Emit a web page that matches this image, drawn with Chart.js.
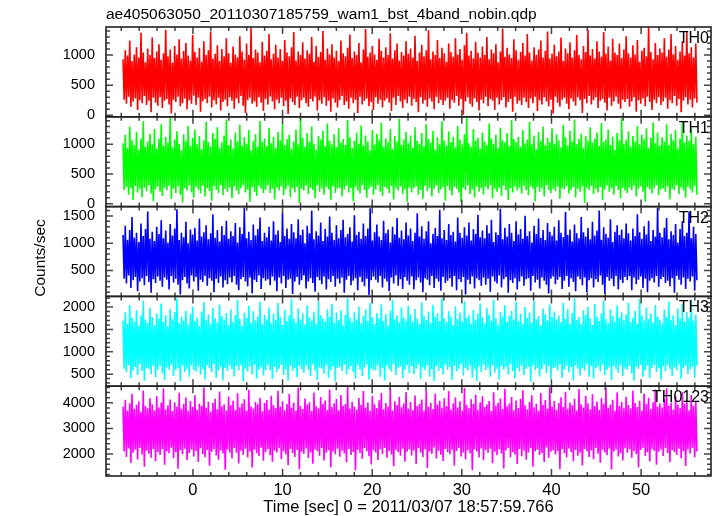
<!DOCTYPE html>
<html>
<head>
<meta charset="utf-8">
<script src="https://cdn.jsdelivr.net/npm/chart.js@4.4.1/dist/chart.umd.min.js"></script>
<style>
  html, body { margin: 0; padding: 0; background: #fff; }
  #wrap { width: 717px; height: 516px; }
</style>
</head>
<body>
<div id="wrap"><canvas id="lc" width="717" height="516"></canvas></div>
<script>
const TITLE = "ae405063050_20110307185759_wam1_bst_4band_nobin.qdp";
const X_TITLE = "Time [sec] 0 = 2011/03/07 18:57:59.766";
const Y_TITLE = "Counts/sec";

// sampling grid of the light curve (sec from t0)
const T_START = -7.8;
const T_STEP = 0.1253;
const X_TICKS = [0, 10, 20, 30, 40, 50];

const LABELS = ["TH0", "TH1", "TH2", "TH3", "TH0123"];
const COLORS = ["#ff0000", "#00ff00", "#0000ff", "#00ffff", "#ff00ff"];
const Y_TICKS = [
  [0, 500, 1000],
  [0, 500, 1000],
  [500, 1000, 1500],
  [500, 1000, 1500, 2000],
  [2000, 3000, 4000],
];

// upper / lower excursions
const TH0_HI = [
  930, 1080, 990, 1240, 900, 1010, 1130, 960, 1370, 1040, 880, 1110, 1000, 1290, 950, 1060,
  1180, 920, 1030, 1420, 980, 1090, 870, 1150, 1010, 1260, 940, 1070, 1200, 990, 910, 1330,
  1050, 960, 1120, 890, 1230, 1000, 1080, 1390, 940, 1020, 1160, 900, 1100, 980, 1280, 1030,
  870, 1140, 1010, 960, 1310, 1060, 920, 1190, 1000, 1450, 950, 1090, 1040, 880, 1220, 990,
  1070, 1350, 930, 1020, 1170, 960, 1100, 900, 1250, 1040, 980, 1130, 1380, 910, 1060, 1000,
  1210, 940, 1080, 1020, 1300, 890, 1150, 970, 1050, 1400, 920, 1110, 1010, 1180, 960, 1070,
  900, 1240, 1030, 980, 1120, 1340, 950, 1060, 1000, 1200, 880, 1090, 1430, 970, 1040, 1150,
  1010, 920, 1270, 1070, 960, 1130, 1000, 1360, 940, 1080, 1190, 910, 1050, 990, 1230, 1020,
  1110, 960, 1320, 900, 1040, 1170, 980, 1080, 1410, 930, 1060, 1000, 1250, 950, 1120, 1030,
  890, 1190, 1050, 970, 1280, 1010, 1100, 920, 1160, 1370, 990, 1070, 940, 1220, 1040, 960,
  1140, 1000, 1300, 930, 1090, 1030, 1180, 880, 1060, 1440, 970, 1120, 1010, 950, 1260, 1080,
  920, 1050, 1200, 990, 1350, 1040, 910, 1130, 1000, 1090, 1240, 960, 1070, 1390, 940, 1020,
  1170, 980, 1060, 1290, 900, 1110, 1030, 1210, 960, 1080, 1330, 1000, 930, 1150, 1050, 1420,
  990, 1100, 940, 1230, 1060, 970, 1380, 1020, 1140, 910, 1270, 1040, 1000, 1190, 950, 1090,
  1310, 1030, 960, 1160, 1010, 1250, 890, 1070, 1120, 980, 1460, 1050, 930, 1200, 1000, 1110,
  1040, 1280, 970, 1090, 1350, 1010, 1150, 920, 1060, 1230, 990, 1400, 1030, 1130, 960, 1190,
];
const TH0_LO = [
  260, 190, 310, 140, 230, 280, 90, 250, 200, 320, 170, 240, 50, 290, 210, 160,
  300, 120, 240, 270, 180, 30, 260, 220, 310, 150, 200, 280, 100, 250, 190, 330,
  170, 290, 60, 230, 270, 200, 310, 130, 250, 180, 290, 80, 220, 260, 150, 300,
  240, 110, 280, 200, 320, 160, 40, 250, 290, 190, 230, 140, 300, 210, 70, 270,
  180, 310, 230, 100, 260, 200, 290, 150, 240, 20, 280, 220, 170, 310, 120, 250,
  290, 200, 140, 270, 230, 310, 80, 250, 190, 300, 160, 240, 60, 280, 210, 130,
  250, 320, 170, 230, 110, 290, 200, 260, 40, 310, 180, 240, 280, 150, 220, 90,
  300, 190, 260, 130, 240, 280, 210, 70, 290, 170, 320, 230, 120, 260, 200, 310,
  160, 270, 220, 50, 300, 190, 250, 140, 280, 230, 100, 310, 200, 260, 170, 240,
  290, 110, 250, 210, 320, 160, 270, 10, 230, 300, 190, 140, 280, 220, 80, 260,
  200, 310, 150, 270, 240, 90, 290, 180, 250, 300, 130, 220, 270, 60, 310, 190,
  240, 170, 290, 220, 120, 280, 200, 310, 70, 250, 180, 300, 230, 150, 260, 30,
  310, 210, 140, 260, 290, 190, 100, 280, 230, 160, 300, 250, 40, 270, 200, 320,
  180, 250, 300, 120, 240, 270, 210, 80, 290, 160, 230, 310, 190, 110, 260, 220,
  270, 140, 230, 300, 60, 250, 190, 280, 150, 310, 220, 90, 260, 200, 300, 170,
  230, 290, 110, 250, 200, 320, 160, 270, 50, 240, 300, 180, 260, 130, 280, 210,
];
const TH1_HI = [
  1020, 1160, 940, 1300, 1070, 990, 1210, 910, 1100, 1390, 960, 1050, 1180, 1000, 1260, 930,
  1090, 1340, 980, 1130, 1030, 1450, 950, 1080, 1220, 1010, 900, 1170, 1060, 1310, 970, 1110,
  1250, 1000, 1140, 920, 1070, 1380, 1040, 960, 1190, 1090, 1290, 940, 1030, 1150, 1420, 990,
  1080, 930, 1200, 1050, 1330, 980, 1120, 1010, 1240, 900, 1060, 1170, 960, 1400, 1040, 1100,
  970, 1280, 1020, 1130, 940, 1210, 1070, 1360, 990, 1090, 1160, 920, 1050, 1250, 1000, 1440,
  1110, 960, 1190, 1040, 1300, 1010, 910, 1140, 1080, 1230, 970, 1350, 1060, 1000, 1170, 950,
  1270, 1030, 1090, 990, 1410, 1120, 940, 1060, 1200, 1010, 1320, 980, 1150, 1050, 900, 1240,
  1000, 1180, 1070, 1370, 960, 1100, 1030, 1260, 920, 1140, 1050, 1430, 990, 1080, 1210, 1020,
  1150, 940, 1290, 1060, 1010, 1190, 970, 1340, 1090, 1030, 1230, 910, 1120, 1000, 1390, 1070,
  980, 1220, 1040, 1130, 950, 1310, 1080, 1000, 1170, 1450, 1020, 960, 1260, 1060, 1110, 930,
  1200, 1050, 990, 1350, 1100, 1010, 1160, 940, 1280, 1070, 1030, 1190, 970, 1410, 1090, 1040,
  1130, 960, 1240, 1020, 1080, 1380, 1000, 1150, 920, 1210, 1060, 1300, 990, 1110, 1040, 1270,
  1010, 1170, 1070, 950, 1330, 1120, 980, 1230, 1050, 1420, 1000, 1090, 1180, 940, 1140, 1060,
  1290, 1030, 1100, 1200, 970, 1360, 1040, 1080, 1250, 990, 1130, 910, 1190, 1070, 1440, 1010,
  1080, 1220, 960, 1140, 1050, 1310, 1000, 1160, 1090, 1270, 940, 1110, 1370, 1020, 1200, 980,
  1120, 1050, 1340, 990, 1180, 1070, 1240, 930, 1100, 1400, 1030, 1150, 1060, 1280, 1000, 1130,
];
const TH1_LO = [
  230, 280, 150, 260, 60, 300, 190, 250, 110, 270, 210, 310, 170, 40, 240, 290,
  200, 130, 270, 230, 300, 80, 250, 180, 290, 150, 20, 260, 220, 310, 190, 100,
  280, 240, 170, 300, 120, 260, 210, 50, 290, 230, 180, 310, 140, 250, 200, 270,
  90, 290, 220, 160, 260, 310, 190, 240, 30, 280, 200, 130, 300, 250, 170, 230,
  310, 180, 250, 70, 270, 220, 290, 140, 240, 300, 110, 260, 190, 280, 10, 250,
  220, 300, 160, 270, 230, 90, 310, 200, 260, 150, 280, 240, 60, 290, 180, 250,
  270, 120, 240, 300, 190, 260, 40, 280, 220, 170, 310, 230, 100, 250, 290, 150,
  240, 310, 200, 130, 280, 250, 180, 300, 70, 260, 220, 290, 160, 240, 30, 270,
  190, 260, 290, 150, 230, 80, 300, 210, 270, 120, 250, 310, 180, 240, 280, 50,
  300, 220, 140, 280, 250, 190, 20, 270, 230, 310, 160, 240, 100, 290, 200, 260,
  150, 280, 240, 310, 90, 250, 200, 270, 130, 300, 230, 60, 260, 190, 290, 220,
  270, 170, 300, 230, 140, 290, 250, 40, 280, 200, 260, 120, 310, 230, 180, 250,
  210, 290, 80, 260, 240, 300, 170, 230, 280, 110, 250, 200, 290, 10, 270, 230,
  300, 160, 250, 190, 280, 60, 240, 310, 200, 260, 150, 290, 230, 90, 270, 220,
  180, 270, 230, 300, 120, 250, 290, 200, 30, 280, 240, 170, 260, 310, 140, 240,
  260, 200, 290, 70, 250, 230, 310, 160, 270, 220, 100, 280, 240, 190, 300, 150,
];
const TH2_HI = [
  1150, 1320, 1060, 1240, 1480, 1100, 1190, 1020, 1360, 1130, 1260, 1580, 1080, 1210, 1040, 1300,
  1170, 1420, 1090, 1230, 1010, 1350, 1140, 1270, 1620, 1060, 1190, 1110, 1390, 1000, 1250, 1160,
  1280, 1050, 1450, 1120, 1200, 1330, 1070, 1180, 1530, 1100, 1240, 1030, 1310, 1150, 1410, 1080,
  1220, 1130, 1370, 1010, 1290, 1170, 1650, 1090, 1210, 1060, 1340, 1140, 1260, 1470, 1040, 1190,
  1110, 1300, 1050, 1400, 1160, 1230, 1020, 1560, 1130, 1270, 1080, 1350, 1200, 1090, 1440, 1150,
  1250, 1000, 1320, 1180, 1600, 1070, 1220, 1140, 1380, 1040, 1260, 1120, 1490, 1190, 1060, 1330,
  1090, 1240, 1430, 1110, 1170, 1290, 1030, 1510, 1150, 1210, 1080, 1360, 1130, 1270, 1640, 1050,
  1200, 1340, 1120, 1060, 1410, 1180, 1250, 1010, 1300, 1160, 1460, 1100, 1230, 1070, 1380, 1140,
  1270, 1040, 1190, 1550, 1120, 1310, 1080, 1220, 1400, 1000, 1170, 1280, 1130, 1610, 1090, 1240,
  1060, 1350, 1150, 1210, 1030, 1470, 1190, 1100, 1290, 1140, 1380, 1050, 1260, 1170, 1520, 1110,
  1230, 1090, 1330, 1180, 1430, 1020, 1200, 1150, 1630, 1070, 1280, 1120, 1350, 1190, 1040, 1400,
  1160, 1260, 1080, 1500, 1130, 1220, 1010, 1320, 1170, 1450, 1100, 1240, 1060, 1370, 1210, 1140,
  1300, 1050, 1420, 1190, 1110, 1570, 1150, 1250, 1030, 1340, 1180, 1090, 1480, 1200, 1120, 1280,
  1070, 1390, 1140, 1230, 1600, 1060, 1290, 1170, 1100, 1440, 1020, 1210, 1330, 1150, 1250, 1090,
  1360, 1180, 1050, 1270, 1130, 1530, 1200, 1080, 1310, 1160, 1410, 1040, 1240, 1120, 1650, 1190,
  1110, 1280, 1460, 1070, 1220, 1150, 1350, 1010, 1260, 1400, 1130, 1190, 1580, 1090, 1300, 1170,
];
const TH2_LO = [
  350, 260, 410, 180, 320, 380, 120, 300, 360, 230, 400, 290, 90, 340, 270, 390,
  310, 200, 370, 330, 150, 400, 280, 350, 240, 60, 320, 380, 260, 170, 410, 300,
  380, 130, 330, 290, 400, 220, 360, 310, 100, 350, 270, 390, 190, 320, 250, 370,
  280, 400, 240, 140, 340, 380, 300, 210, 370, 80, 330, 290, 410, 160, 360, 310,
  340, 230, 390, 310, 120, 370, 260, 400, 180, 330, 350, 70, 300, 380, 240, 320,
  410, 170, 300, 360, 270, 110, 380, 320, 250, 390, 150, 340, 290, 400, 200, 350,
  260, 370, 90, 330, 400, 230, 310, 360, 140, 380, 290, 210, 350, 50, 320, 390,
  330, 280, 400, 190, 350, 300, 120, 370, 260, 410, 220, 340, 160, 380, 310, 240,
  390, 150, 320, 370, 280, 100, 360, 330, 230, 400, 180, 350, 300, 130, 380, 270,
  310, 360, 200, 400, 140, 340, 290, 380, 60, 330, 250, 390, 170, 360, 320, 220,
  370, 240, 350, 110, 390, 300, 260, 410, 190, 340, 380, 90, 320, 270, 360, 150,
  300, 390, 220, 340, 360, 130, 400, 280, 330, 170, 370, 310, 240, 80, 350, 390,
  250, 330, 380, 160, 310, 400, 200, 360, 290, 120, 390, 340, 230, 370, 100, 320,
  360, 190, 340, 290, 410, 240, 70, 380, 310, 350, 210, 400, 150, 330, 270, 380,
  320, 400, 140, 370, 250, 330, 390, 180, 350, 100, 310, 360, 280, 400, 200, 340,
  380, 270, 310, 210, 360, 90, 400, 330, 240, 370, 160, 350, 300, 390, 130, 320,
];
const TH3_HI = [
  1700, 1880, 1620, 2050, 1760, 1680, 1930, 1590, 1810, 2150, 1720, 1650, 1990, 1780, 1600, 1860,
  1740, 2080, 1670, 1820, 1570, 1960, 1730, 1890, 2190, 1640, 1790, 1700, 1920, 1610, 1850, 2010,
  1690, 1770, 1580, 1900, 2110, 1710, 1840, 1630, 1980, 1750, 1660, 2060, 1800, 1720, 1870, 1600,
  1950, 1680, 1820, 2170, 1740, 1590, 1880, 1760, 2030, 1650, 1910, 1700, 1790, 2120, 1620, 1830,
  1730, 1990, 1640, 1850, 1710, 2090, 1780, 1600, 1940, 1690, 1810, 2180, 1750, 1660, 1970, 1720,
  1860, 1610, 2040, 1770, 1700, 1900, 1630, 2140, 1820, 1740, 1680, 1960, 1790, 2070, 1650, 1880,
  1710, 1930, 1590, 1830, 2200, 1760, 1670, 1890, 1720, 2010, 1640, 1800, 1950, 1690, 2100, 1780,
  1620, 1870, 1750, 2060, 1690, 1840, 1580, 1920, 2160, 1730, 1810, 1660, 1990, 1770, 1700, 2030,
  1840, 1680, 1960, 1740, 1620, 2110, 1800, 1710, 1900, 1640, 2050, 1780, 1860, 1690, 2190, 1750,
  1660, 1910, 1790, 1600, 2020, 1730, 1880, 1680, 2130, 1760, 1820, 1630, 1940, 1710, 1850, 2080,
  1770, 1640, 1980, 1830, 1700, 2170, 1750, 1610, 1890, 1790, 2040, 1670, 1810, 1920, 1720, 2120,
  1690, 1850, 1620, 2000, 1760, 1880, 1650, 2150, 1730, 1800, 1590, 1970, 1840, 1700, 2060, 1780,
  1900, 1720, 1810, 1660, 2090, 1740, 1960, 1630, 1870, 2190, 1710, 1780, 1620, 1930, 1820, 2010,
  1750, 1600, 2070, 1790, 1690, 1860, 2140, 1730, 1640, 1950, 1800, 1680, 2030, 1770, 1880, 1710,
  1830, 2100, 1660, 1760, 1920, 1620, 2180, 1810, 1700, 1990, 1740, 1850, 1650, 2050, 1790, 1720,
  1640, 1940, 1780, 2120, 1710, 1820, 1600, 1970, 1750, 2080, 1680, 1890, 1760, 2160, 1700, 1830,
];
const TH3_LO = [
  620, 540, 700, 410, 590, 660, 480, 720, 570, 350, 640, 610, 500, 690, 430, 600,
  680, 520, 370, 650, 600, 710, 460, 580, 640, 340, 690, 550, 620, 440, 700, 590,
  560, 670, 490, 610, 380, 700, 630, 540, 720, 420, 590, 660, 360, 640, 570, 690,
  610, 450, 680, 580, 700, 330, 620, 560, 670, 500, 710, 400, 600, 650, 470, 580,
  700, 590, 390, 660, 540, 620, 710, 480, 600, 350, 680, 570, 640, 430, 690, 610,
  530, 690, 600, 460, 720, 580, 370, 650, 620, 510, 700, 420, 590, 670, 340, 640,
  660, 570, 710, 490, 610, 680, 550, 400, 700, 600, 460, 650, 720, 380, 620, 580,
  590, 700, 440, 640, 360, 690, 610, 560, 720, 480, 630, 670, 410, 600, 700, 520,
  680, 500, 620, 710, 390, 650, 590, 700, 450, 610, 340, 680, 570, 640, 490, 710,
  600, 660, 370, 690, 560, 620, 720, 470, 640, 580, 690, 420, 610, 350, 670, 550,
  710, 590, 650, 440, 700, 530, 620, 380, 680, 600, 660, 490, 720, 570, 400, 640,
  560, 690, 480, 620, 660, 330, 700, 590, 640, 450, 610, 710, 520, 680, 390, 630,
  650, 580, 710, 420, 600, 690, 540, 660, 360, 700, 620, 470, 640, 580, 720, 440,
  690, 400, 630, 670, 560, 710, 480, 600, 650, 370, 690, 610, 530, 700, 460, 620,
  600, 680, 520, 350, 660, 620, 710, 440, 590, 690, 410, 640, 700, 550, 630, 380,
  670, 560, 700, 610, 460, 650, 590, 720, 390, 630, 680, 500, 610, 660, 420, 690,
];
const TH0123_HI = [
  3850, 4120, 3700, 3980, 4350, 3760, 3920, 4050, 3650, 4480, 3880, 3790, 4180, 3940, 3710, 4260,
  3820, 4010, 4560, 3740, 3900, 4130, 3680, 4020, 3860, 4390, 3770, 3950, 4210, 3690, 4070, 3840,
  4300, 3730, 3960, 3880, 4600, 3810, 4040, 3660, 3990, 4160, 3750, 4440, 3870, 3930, 3700, 4250,
  3900, 4080, 3720, 4370, 3830, 3970, 4140, 3690, 4510, 3860, 3780, 4030, 3940, 4200, 3670, 3990,
  4110, 3740, 4280, 3910, 3800, 4470, 3850, 4060, 3710, 3950, 4340, 3820, 4000, 3690, 4590, 3880,
  3760, 4170, 3930, 4020, 3680, 4400, 3870, 3790, 4230, 3960, 4090, 3720, 4520, 3840, 3980, 4150,
  3710, 4310, 3890, 3950, 4620, 3780, 4040, 3860, 3740, 4190, 3920, 4460, 3820, 4010, 3690, 4270,
  3940, 3800, 4100, 4380, 3750, 3990, 3860, 4570, 3700, 4060, 3910, 4240, 3830, 3970, 4420, 3770,
  4030, 3720, 4290, 3880, 3960, 4130, 3690, 4500, 3850, 4000, 3760, 4350, 3930, 4080, 3810, 4180,
  3870, 4450, 3740, 3980, 4210, 3820, 4060, 3700, 4580, 3910, 3790, 4140, 3950, 4320, 3730, 4020,
  4260, 3840, 3930, 4070, 3680, 4410, 3890, 4000, 4170, 3760, 4550, 3870, 3970, 4230, 3710, 4090,
  3800, 4150, 4490, 3900, 3750, 4040, 4300, 3830, 3960, 3690, 4380, 3920, 4110, 3780, 4610, 3860,
  4070, 3730, 3990, 4220, 3850, 4430, 3770, 4010, 3900, 4160, 3700, 4540, 3940, 3820, 4280, 3980,
  3750, 4330, 3880, 4050, 3720, 4190, 3960, 4590, 3810, 3930, 4120, 3690, 4400, 3870, 4030, 3790,
  4240, 3910, 3780, 4470, 3990, 3840, 4080, 3700, 4360, 3950, 4200, 3760, 4020, 4520, 3850, 3970,
  3820, 4140, 4560, 3890, 4010, 3740, 4270, 3930, 3800, 4430, 3960, 4100, 3710, 4310, 3880, 4050,
];
const TH0123_LO = [
  2100, 1880, 2220, 1650, 2050, 2170, 1790, 2240, 1980, 1500, 2130, 2010, 1850, 2200, 1720, 2080,
  1960, 2190, 1580, 2110, 2030, 2250, 1830, 2070, 1420, 2150, 1990, 2210, 1760, 2040, 2180, 1900,
  2120, 1690, 2230, 2000, 1870, 2160, 1540, 2090, 2200, 1940, 1780, 2140, 2020, 1380, 2180, 2060,
  1820, 2240, 2050, 1630, 2130, 1970, 2210, 1860, 2100, 1470, 2170, 2030, 1920, 2250, 1740, 2080,
  2190, 1950, 1700, 2140, 2060, 2230, 1800, 2110, 1990, 1560, 2200, 2040, 1880, 2160, 1400, 2090,
  2010, 2220, 1840, 2070, 1620, 2180, 2120, 1930, 2240, 1750, 2050, 2150, 1480, 2100, 1990, 2210,
  1890, 2130, 2020, 1670, 2200, 1960, 2080, 1360, 2170, 2040, 1810, 2230, 2110, 1910, 1590, 2150,
  2060, 1770, 2190, 2000, 2240, 1850, 2120, 1980, 1520, 2160, 2070, 1930, 2210, 1700, 2090, 2180,
  1940, 2140, 1610, 2230, 2050, 1880, 2190, 1450, 2100, 2010, 2250, 1820, 2130, 1970, 1730, 2200,
  2080, 1990, 2170, 1540, 2120, 2240, 1900, 2060, 1790, 2150, 2030, 1370, 2190, 2100, 1860, 2220,
  1760, 2160, 2050, 2210, 1640, 2090, 1950, 2180, 2020, 1430, 2140, 2240, 1870, 2070, 1980, 1610,
  2200, 1910, 2130, 1780, 2060, 2230, 1500, 2110, 2170, 1960, 2040, 1690, 2250, 1840, 2090, 2150,
  1980, 2120, 1400, 2190, 2030, 1860, 2220, 2080, 1720, 2160, 1930, 2050, 1550, 2200, 2110, 1880,
  2140, 1800, 2240, 2010, 1660, 2170, 2060, 1950, 2210, 1390, 2100, 2180, 1900, 2030, 1750, 2230,
  2050, 2190, 1850, 2120, 2000, 1470, 2160, 2240, 1930, 2070, 1710, 2200, 2130, 1580, 2090, 2180,
  1920, 2230, 2040, 1680, 2150, 2080, 1960, 2210, 1830, 2110, 1530, 2180, 2020, 2240, 1870, 2100,
];

const FONT = "'Liberation Sans', Arial, Helvetica, sans-serif";

// panel settings, top to bottom
const PANELS = [
  { hi: TH0_HI, lo: TH0_LO, min: -25, max: 1465, minor: 100, major: 500 },
  { hi: TH1_HI, lo: TH1_LO, min: -50, max: 1465, minor: 100, major: 500 },
  { hi: TH2_HI, lo: TH2_LO, min: 25, max: 1670, minor: 100, major: 500 },
  { hi: TH3_HI, lo: TH3_LO, min: 230, max: 2240, minor: 100, major: 500 },
  { hi: TH0123_HI, lo: TH0123_LO, min: 1140, max: 4650, minor: 200, major: 1000 },
];

// hi and lo samples alternate along the time grid
function zigzag(hi, lo) {
  const pts = [];
  for (let i = 0; i < hi.length; i++) {
    pts.push({ x: T_START + 2 * i * T_STEP, y: hi[i] });
    pts.push({ x: T_START + (2 * i + 1) * T_STEP, y: lo[i] });
  }
  return pts;
}

Chart.defaults.font.family = FONT;
Chart.defaults.color = "#000";

const scales = {
  x: {
    type: "linear",
    position: "bottom",
    min: -9.7,
    max: 57.8,
    grid: { display: false, drawTicks: false },
    border: { display: false },
    afterBuildTicks: (s) => { s.ticks = X_TICKS.map((v) => ({ value: v })); },
    afterFit: (s) => { s.height = 40; },
    ticks: { color: "#000", font: { size: 16.5 }, padding: 5, autoSkip: false, maxRotation: 0, callback: (v) => String(v) },
    title: { display: true, text: X_TITLE, color: "#000", font: { size: 16.5, lineHeight: 1 }, padding: 0 },
  },
};

PANELS.forEach((p, i) => {
  scales["y" + i] = {
    type: "linear",
    position: "left",
    stack: "lc",
    stackWeight: 1,
    weight: PANELS.length - i,
    min: p.min,
    max: p.max,
    grid: { display: false, drawTicks: false },
    border: { display: false },
    afterBuildTicks: (s) => { s.ticks = Y_TICKS[i].map((v) => ({ value: v })); },
    afterFit: (s) => { s.width = 106; },
    ticks: { color: "#000", font: { size: 14.5 }, padding: 11, autoSkip: false, callback: (v) => String(v) },
  };
});

// qdp style frame: inward ticks on every side, band name, y label
const qdpFrame = {
  id: "qdpFrame",
  afterDatasetsDraw(chart) {
    const { ctx, chartArea } = chart;
    const xs = chart.scales.x;
    const L = chartArea.left;
    const R = chartArea.right;
    PANELS.forEach((p, i) => {
      const ys = chart.scales["y" + i];
      const top = ys.top;
      const bot = ys.bottom;
      ctx.save();
      ctx.strokeStyle = "#454545";
      ctx.lineWidth = 1.5;
      ctx.beginPath();
      for (let v = Math.ceil(p.min / p.minor) * p.minor; v <= p.max; v += p.minor) {
        const y = ys.getPixelForValue(v);
        const len = v % p.major === 0 ? 7 : 4;
        ctx.moveTo(L, y); ctx.lineTo(L + len, y);
        ctx.moveTo(R, y); ctx.lineTo(R - len, y);
      }
      for (let t = Math.ceil(xs.min / 2) * 2; t <= xs.max; t += 2) {
        const x = xs.getPixelForValue(t);
        const len = t % 10 === 0 ? 7 : 4;
        ctx.moveTo(x, top); ctx.lineTo(x, top + len);
        ctx.moveTo(x, bot); ctx.lineTo(x, bot - len);
      }
      ctx.stroke();
      ctx.strokeStyle = "#222";
      ctx.lineWidth = 1.6;
      ctx.strokeRect(L, top, R - L, bot - top);
      ctx.fillStyle = "#000";
      ctx.font = "16px " + FONT;
      ctx.textAlign = "right";
      ctx.textBaseline = "alphabetic";
      ctx.fillText(LABELS[i], R - 2, top + 16);
      ctx.restore();
    });
    ctx.save();
    ctx.translate(41, 258);
    ctx.rotate(-Math.PI / 2);
    ctx.fillStyle = "#000";
    ctx.font = "15.5px " + FONT;
    ctx.textAlign = "center";
    ctx.textBaseline = "middle";
    ctx.fillText(Y_TITLE, 0, 0);
    ctx.restore();
  },
};

new Chart(document.getElementById("lc").getContext("2d"), {
  type: "line",
  data: {
    datasets: PANELS.map((p, i) => ({
      label: LABELS[i],
      data: zigzag(p.hi, p.lo),
      yAxisID: "y" + i,
      borderColor: COLORS[i],
      borderWidth: 1.6,
      borderJoinStyle: "bevel",
      pointRadius: 0,
      fill: false,
      tension: 0,
    })),
  },
  options: {
    responsive: false,
    animation: false,
    devicePixelRatio: 1,
    events: [],
    layout: { padding: { left: 0, right: 6, top: 0, bottom: 0 } },
    plugins: {
      legend: { display: false },
      tooltip: { enabled: false },
      title: {
        display: true,
        text: TITLE,
        align: "start",
        fullSize: false,
        color: "#000",
        font: { size: 15.5, weight: "normal", lineHeight: 1.2 },
        padding: { top: 5.7, bottom: 2.7 },
      },
    },
    scales: scales,
  },
  plugins: [qdpFrame],
});
</script>
</body>
</html>
